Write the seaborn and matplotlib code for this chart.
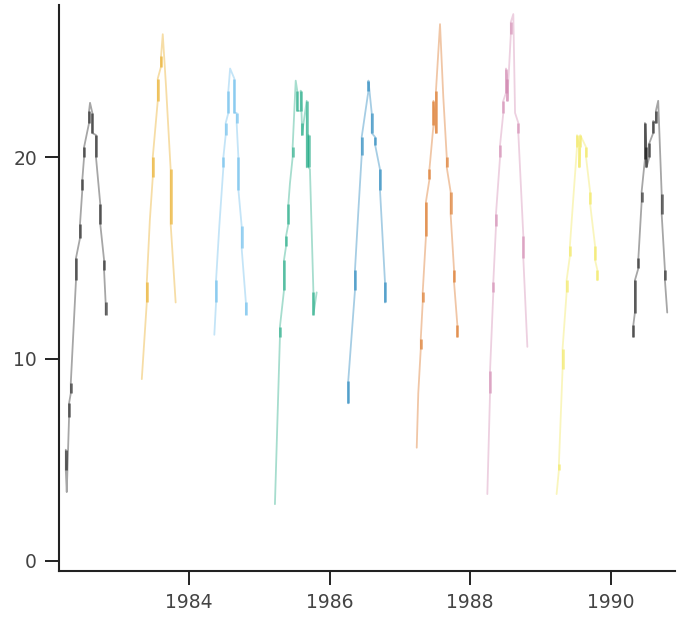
import matplotlib
matplotlib.use("Agg")
import matplotlib.pyplot as plt
import pandas as pd
import seaborn as sns

# Seasonal water temperature readings (day of year, deg C), one season per year.
# A day listed twice had two readings taken on it.
years = [1982, 1983, 1984, 1985, 1986, 1987, 1988, 1989, 1990]
season_colors = ["#000000", "#E69F00", "#56B4E9", "#009E73", "#0072B2",
                 "#D55E00", "#CC79A7", "#F0E442", "#000000"]

doy_1982 = [88, 88, 93, 105, 105, 114, 114, 141, 141, 162, 162, 174, 174, 183, 183,
            209, 209, 214, 226, 226, 245, 245, 267, 267, 287, 287, 295, 295]
temp_1982 = [5.5, 4.5, 3.4, 7.1, 7.8, 8.3, 8.8, 13.9, 15.0, 16.0, 16.7, 18.4, 18.9, 20.0, 20.5,
             21.7, 22.3, 22.7, 22.2, 21.2, 21.1, 20.0, 17.7, 16.7, 14.9, 14.4, 12.8, 12.2]

doy_1983 = [118, 144, 144, 160, 175, 175, 201, 201, 218, 218, 227, 244, 268, 268, 294]
temp_1983 = [9.0, 12.8, 13.8, 16.9, 19.0, 20.0, 22.8, 23.9, 24.5, 25.0, 26.1, 23.5, 19.4, 16.7, 12.8]

doy_1984 = [130, 139, 139, 156, 177, 177, 189, 189, 203, 203, 212, 234, 234, 246, 246,
            255, 255, 272, 272, 294, 294]
temp_1984 = [11.2, 12.8, 13.9, 16.6, 19.5, 20.0, 21.1, 21.7, 22.2, 23.3, 24.4, 23.9, 22.2, 22.2, 21.7,
             20.0, 18.4, 16.6, 15.5, 12.8, 12.2]

doy_1985 = [80, 106, 106, 127, 127, 138, 138, 150, 150, 158, 172, 172, 188, 196, 196,
            214, 214, 220, 220, 245, 245, 255, 255, 262, 280, 280, 297]
temp_1985 = [2.8, 11.1, 11.6, 13.4, 14.9, 15.6, 16.1, 16.7, 17.7, 18.7, 20.0, 20.5, 23.8, 23.3, 22.3,
             22.3, 23.3, 21.7, 21.1, 22.8, 19.5, 21.1, 19.5, 19.4, 13.3, 12.2, 13.3]

doy_1986 = [96, 96, 131, 131, 149, 166, 166, 201, 201, 218, 218, 236, 236, 261, 261, 287, 287]
temp_1986 = [7.8, 8.9, 13.4, 14.4, 17.4, 20.1, 21.0, 23.3, 23.8, 22.2, 21.2, 21.0, 20.6,
             19.4, 18.4, 13.8, 12.8]

doy_1987 = [87, 95, 108, 108, 118, 118, 135, 135, 153, 153, 174, 174, 187, 187, 208, 225,
            243, 243, 263, 263, 281, 281, 298, 298]
temp_1987 = [5.6, 8.3, 10.5, 11.0, 12.8, 13.3, 16.1, 17.8, 18.9, 19.4, 21.6, 22.8, 21.2, 23.3, 26.6, 23.0,
             20.0, 19.5, 18.3, 17.2, 14.4, 13.8, 11.7, 11.1]

doy_1988 = [89, 103, 103, 120, 120, 134, 134, 155, 155, 172, 172, 186, 186, 193, 193,
            211, 211, 224, 233, 250, 250, 276, 276, 297]
temp_1988 = [3.3, 8.3, 9.4, 13.3, 13.8, 16.6, 17.2, 20.0, 20.6, 22.2, 22.8, 23.2, 24.4, 23.9, 22.8,
             26.1, 26.7, 27.1, 22.2, 21.7, 21.2, 16.1, 15.0, 10.6]

doy_1989 = [84, 96, 96, 115, 115, 136, 136, 153, 153, 171, 190, 190, 202, 202, 207, 207,
            237, 237, 258, 258, 284, 284, 296, 296]
temp_1989 = [3.3, 4.5, 4.8, 9.5, 10.5, 13.3, 13.9, 15.1, 15.6, 18.0, 20.5, 21.1, 20.5, 19.5, 20.5, 21.1,
             20.5, 20.0, 18.3, 17.7, 15.6, 14.9, 14.4, 13.9]

doy_1990 = [118, 118, 126, 126, 144, 144, 161, 161, 178, 178, 186, 186, 201, 201, 221, 221,
            235, 235, 247, 265, 265, 282, 282, 294]
temp_1990 = [11.1, 11.7, 12.3, 13.9, 14.5, 15.0, 17.8, 18.3, 19.9, 21.7, 20.5, 19.5, 20.0, 20.7, 21.2, 21.8,
             21.7, 22.3, 22.8, 18.2, 17.2, 14.4, 13.9, 12.3]

season_doy = [doy_1982, doy_1983, doy_1984, doy_1985, doy_1986,
              doy_1987, doy_1988, doy_1989, doy_1990]
season_temp = [temp_1982, temp_1983, temp_1984, temp_1985, temp_1986,
               temp_1987, temp_1988, temp_1989, temp_1990]

xtick_years = [1984, 1986, 1988, 1990]
ytick_vals = [0, 10, 20]

# Long-form table of every reading
frames = []
for yr, doys, temps in zip(years, season_doy, season_temp):
    frames.append(pd.DataFrame({"season": str(yr), "doy": doys, "temp": temps}))
df = pd.concat(frames, ignore_index=True)
df["date"] = df["season"].astype(int) + df["doy"] / 365.0
palette = {str(yr): c for yr, c in zip(years, season_colors)}

# Days with more than one reading, drawn again as short vertical spans
multi = df[df.duplicated(["season", "doy"], keep=False)]

sns.set_style("ticks")
plt.rcParams["font.family"] = ["DejaVu Sans"]

fig = plt.figure(figsize=(6.85, 6.23), dpi=100)
ax = fig.add_axes([0.0866, 0.0839, 0.8988, 0.9081])

sns.lineplot(data=df, x="date", y="temp", hue="season", palette=palette,
             estimator=None, sort=False, legend=False, ax=ax,
             linewidth=1.3, alpha=0.35)
sns.lineplot(data=multi, x="date", y="temp", hue="season", units="doy",
             palette=palette, estimator=None, sort=False, legend=False, ax=ax,
             linewidth=2.0, alpha=0.5, solid_capstyle="butt")

ax.set_xlim(1982.149, 1990.916)
ax.set_ylim(-0.5, 27.55)
ax.set_xticks(xtick_years, labels=[str(t) for t in xtick_years])
ax.set_yticks(ytick_vals, labels=[str(t) for t in ytick_vals])
ax.set_xlabel("")
ax.set_ylabel("")

for side in ("left", "bottom"):
    ax.spines[side].set_linewidth(1.5)
    ax.spines[side].set_color("#222222")
sns.despine(ax=ax)
ax.tick_params(axis="both", length=10, width=1.4, color="#222222",
               labelsize=13.5, labelcolor="#444444", pad=6)

fig.savefig("out.png", dpi=100)
